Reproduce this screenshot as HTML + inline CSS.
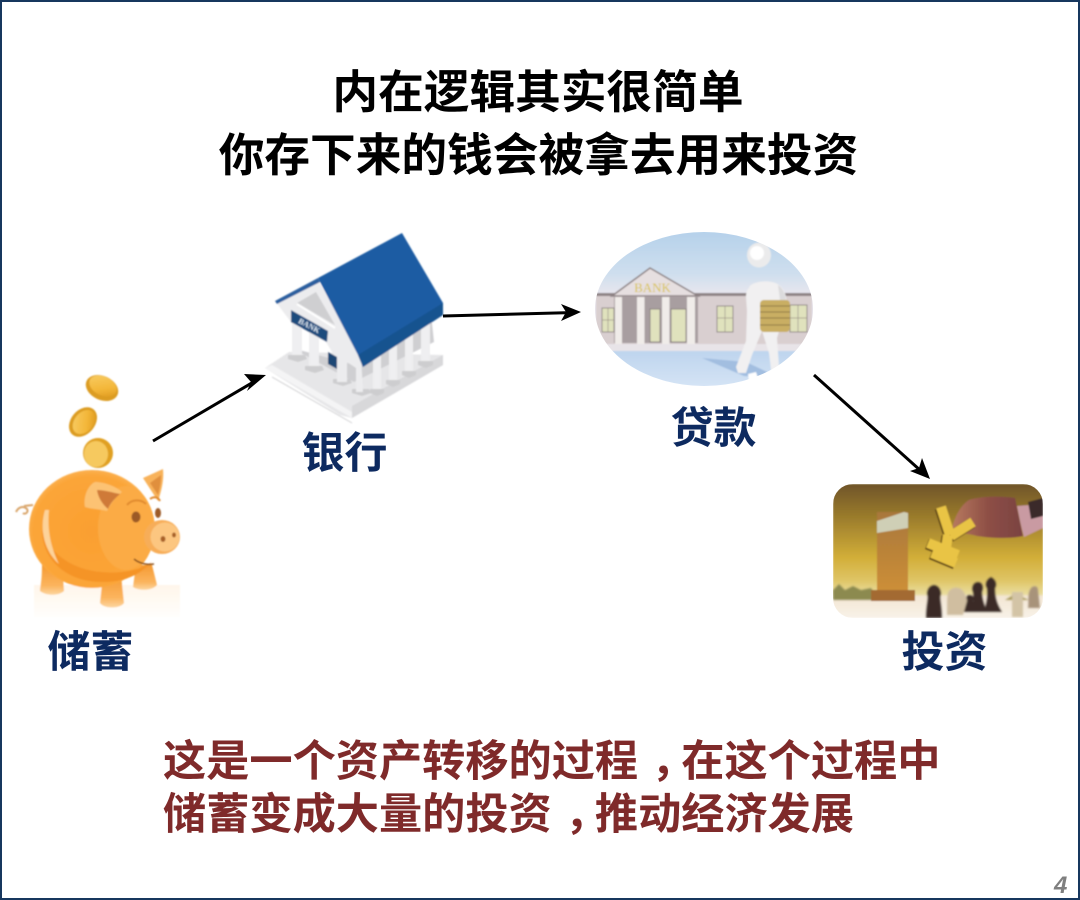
<!DOCTYPE html>
<html><head><meta charset="utf-8">
<style>
html,body{margin:0;padding:0;background:#fff}
svg{display:block}
text{font-family:"Liberation Sans","Noto Sans CJK SC",sans-serif;font-weight:700}
</style></head>
<body>
<svg width="1080" height="900" viewBox="0 0 1080 900" xmlns="http://www.w3.org/2000/svg">
<defs>
<filter id="b" x="-5%" y="-5%" width="110%" height="110%"><feGaussianBlur stdDeviation="0.7"/></filter>
<filter id="t" x="-2%" y="-5%" width="104%" height="110%"><feGaussianBlur stdDeviation="0.35"/></filter>
<filter id="b3" x="-30%" y="-30%" width="160%" height="160%"><feGaussianBlur stdDeviation="0.8"/></filter>
<radialGradient id="pig" cx="0.5" cy="0.52" r="0.6"><stop offset="0" stop-color="#fa9f30"/><stop offset="0.78" stop-color="#fba538"/><stop offset="0.93" stop-color="#fcb860"/><stop offset="1" stop-color="#fdd9a4"/></radialGradient>
<linearGradient id="coin" x1="0" y1="0" x2="1" y2="1"><stop offset="0" stop-color="#f8cf6a"/><stop offset="0.6" stop-color="#f3b638"/><stop offset="1" stop-color="#d8921a"/></linearGradient>
<linearGradient id="leg" x1="0" y1="0" x2="0" y2="1"><stop offset="0" stop-color="#f59a32"/><stop offset="0.7" stop-color="#fbb45e"/><stop offset="1" stop-color="#fdd6a0"/></linearGradient>
<linearGradient id="glow" x1="0" y1="0" x2="0" y2="1"><stop offset="0" stop-color="#fff6ea"/><stop offset="1" stop-color="#fffefc"/></linearGradient>
<linearGradient id="sky" x1="0" y1="0" x2="0" y2="1"><stop offset="0" stop-color="#b3d0ea"/><stop offset="0.28" stop-color="#cfdfee"/><stop offset="0.4" stop-color="#e8e6ee"/></linearGradient>
<linearGradient id="ground" x1="0" y1="0" x2="0" y2="1"><stop offset="0" stop-color="#bdd4ee"/><stop offset="1" stop-color="#d8e6f6"/></linearGradient>
<linearGradient id="inv" x1="0" y1="0" x2="0" y2="1"><stop offset="0" stop-color="#6f5428"/><stop offset="0.25" stop-color="#9b7c2c"/><stop offset="0.55" stop-color="#d2ae38"/><stop offset="0.72" stop-color="#dfc566"/><stop offset="0.82" stop-color="#e9dc9c"/><stop offset="0.84" stop-color="#f3e6d4"/><stop offset="1" stop-color="#f8f2e8"/></linearGradient>
<linearGradient id="tower" x1="0" y1="0" x2="0" y2="1"><stop offset="0" stop-color="#a8773a"/><stop offset="1" stop-color="#cf9038"/></linearGradient>
<linearGradient id="hand" x1="0" y1="0" x2="1" y2="0"><stop offset="0" stop-color="#b87a60"/><stop offset="0.5" stop-color="#8e4f45"/><stop offset="1" stop-color="#7a4242"/></linearGradient>
<clipPath id="oval"><ellipse cx="704" cy="309" rx="109" ry="77"/></clipPath>
<clipPath id="rr"><rect x="833" y="484" width="210" height="134" rx="20"/></clipPath>
</defs>

<rect width="1080" height="900" fill="#fff"/>
<rect x="1" y="1" width="1078" height="898" fill="none" stroke="#17375e" stroke-width="2"/>

<g filter="url(#t)">
<text x="538" y="108" font-size="45.7" text-anchor="middle" fill="#000">内在逻辑其实很简单</text>
<text x="538.5" y="171" font-size="45.7" text-anchor="middle" fill="#000">你存下来的钱会被拿去用来投资</text>
<text x="90.5" y="667" font-size="43" text-anchor="middle" fill="#0f2a60">储蓄</text>
<text x="344.5" y="468" font-size="43" text-anchor="middle" fill="#0f2a60">银行</text>
<text x="713.5" y="443" font-size="43" text-anchor="middle" fill="#0f2a60">贷款</text>
<text x="944.5" y="667" font-size="43" text-anchor="middle" fill="#0f2a60">投资</text>
<text x="163" y="776" font-size="43.2" fill="#7f2a2a">这是一个资产转移的过程<tspan dx="13">，</tspan><tspan dx="-13">在这个过程中</tspan></text>
<text x="163" y="829" font-size="43.2" fill="#7f2a2a">储蓄变成大量的投资<tspan dx="13">，</tspan><tspan dx="-13">推动经济发展</tspan></text>
<text x="1054" y="893" font-size="24" fill="#7f7f7f" style="font-style:italic">4</text>
</g>

<!-- piggy -->
<g filter="url(#b)">
<rect x="34" y="585" width="146" height="32" fill="url(#glow)"/>
<path d="M16 512c3-6 8-6 11-3c2 3-2 6-4 4M24 506l9-1" fill="none" stroke="#d9a469" stroke-width="2"/>
<path d="M42 565h20l2 26c-5 5-18 5-24 0c0-4 2-8 2-26z" fill="url(#leg)"/>
<path d="M103 575h18l3 28c-4 6-20 6-24 0z" fill="url(#leg)"/>
<path d="M136 565h16l5 20c-5 6-18 6-24 2z" fill="url(#leg)"/>
<path d="M143 478l20-9c1 10-1 20-5 32z" fill="#f8b25a"/>
<path d="M150 483l11-8c0 8-1 12-3 20z" fill="#e08f3c"/>
<ellipse cx="98" cy="453" rx="15" ry="15" fill="#e0a021"/>
<ellipse cx="96" cy="454" rx="12" ry="13" fill="#f6c95f"/>
<ellipse cx="92" cy="529" rx="63" ry="59" fill="url(#pig)"/>
<ellipse cx="126" cy="528" rx="28" ry="42" fill="#fbab44"/>
<path d="M42 530c0 30 25 52 60 52c25 0 38-8 50-20c-12 8-30 12-50 10c-30-2-54-20-60-42z" fill="#f59428"/>
<path d="M45 510c-6 20 0 42 14 54c-8-16-12-34-10-54z" fill="#fdd39a"/>
<path d="M85 507c-2-10 3-22 10-25c10 0 22 5 27 10c-8 6-12 14-15 19c-8-2-16-2-22-4z" fill="#fcc273"/>
<path d="M97 490c8 0 17 3 23 4c-6 5-10 10-12 15c-6-5-10-12-11-19z" fill="#cf7a38"/>
<path d="M127 505c5-6 14-6 19-1M150 499c4-3 8-2 10 2" fill="none" stroke="#e08a2e" stroke-width="2"/>
<ellipse cx="136" cy="517" rx="4.5" ry="5.5" fill="#9c5a26"/>
<ellipse cx="158" cy="513" rx="3" ry="5" fill="#9c5a26"/>
<ellipse cx="162" cy="537" rx="18" ry="17" fill="#f7ad58"/>
<ellipse cx="165" cy="537" rx="14.5" ry="14.5" fill="#fcc680"/>
<ellipse cx="163" cy="539" rx="2.5" ry="3" fill="#a86027"/>
<ellipse cx="174" cy="535" rx="2" ry="2.5" fill="#a86027"/>
<path d="M134 559c6 5 14 6 20 5" fill="none" stroke="#8a4f1c" stroke-width="1.5"/>
<ellipse cx="102" cy="388" rx="17" ry="12" transform="rotate(25 102 388)" fill="#dc9c20"/>
<ellipse cx="103" cy="386" rx="14.5" ry="9.5" transform="rotate(25 103 386)" fill="url(#coin)"/>
<ellipse cx="83" cy="422" rx="16.5" ry="12" transform="rotate(-50 83 422)" fill="#dc9c20"/>
<ellipse cx="84" cy="422" rx="13.5" ry="9.5" transform="rotate(-50 84 422)" fill="url(#coin)"/>
</g>

<!-- bank -->
<g filter="url(#b)">
<path d="M265 368l24-16 154 3v10l-91 53-12-3z" fill="#e6e6e8"/>
<path d="M265 368l87 50v-6l-80-47z" fill="#f4f4f5"/>
<path d="M272 377l80 46" stroke="#d0d0d2" stroke-width="1" fill="none"/>
<path d="M352 418l91-53v-10l-91 51z" fill="#d8d8da"/>
<path d="M292 348l62 34 80-40-3-28-80 50z" fill="#cfcfd2"/>
<g fill="#efeff1">
<rect x="292" y="318" width="10" height="40"/><rect x="309" y="328" width="10" height="40"/>
<rect x="373" y="352" width="8" height="39"/><rect x="389" y="342" width="8" height="40"/>
<rect x="405" y="332" width="8" height="41"/><rect x="421" y="322" width="9" height="40"/>
</g>
<g fill="#cdcdcf">
<path d="M288 355h17l2 4-9 3-10-3z"/><path d="M305 366h17l2 4-9 3-10-3z"/>
<path d="M333 379h17l2 4-9 3-10-3z"/><path d="M352 389h17l2 4-9 3-10-3z"/>
<path d="M370 389h14v4l-7 3-7-3z"/><path d="M386 380h14v4l-7 3-7-3z"/>
<path d="M402 371h14v4l-7 3-7-3z"/><path d="M418 361h15v4l-7 3-8-3z"/>
</g>
<path d="M275 301l43-21 43 75 2 37h-7v-24l-9-6v20h-10v-22l-11-18-35-20z" fill="#ececee"/>
<path d="M297 303l19-11 19 33z" fill="#cfcfd1"/>
<path d="M297 304l38 24" stroke="#fff" stroke-width="2"/>
<path d="M328 352l9 5v12l-9-5z" fill="#1c4775"/>
<path d="M291 310l37 21-1 11-36-20z" fill="#1d4b7d"/>
<text x="308" y="328" font-size="8" fill="#dbe6f0" transform="rotate(28 308 328)" text-anchor="middle" style="font-family:'Liberation Serif',serif">BANK</text>
<path d="M275 301l43-23 2 4-43 22z" fill="#2a5f9f"/>
<path d="M318 278l84-45 41 70v12l-80 52-5-12z" fill="#1c5ca3"/>
<path d="M358 355l85-52v12l-80 52z" fill="#17528f"/>
</g>

<!-- loan oval -->
<g clip-path="url(#oval)" filter="url(#b)">
<rect x="590" y="228" width="230" height="165" fill="url(#sky)"/>
<rect x="590" y="350" width="230" height="42" fill="url(#ground)"/>
<rect x="590" y="343" width="230" height="8" fill="#e8e4e8"/>
<rect x="596" y="296" width="216" height="48" fill="#d9cfd0"/>
<rect x="596" y="293" width="216" height="3" fill="#8e8385"/>
<path d="M612 296l38-28 48 28z" fill="#e6dfe0" stroke="#8b8082" stroke-width="1.5"/>
<text x="652.5" y="292" font-size="13" fill="#d9c24a" text-anchor="middle" style="font-family:'Liberation Serif',serif;font-weight:400">BANK</text>
<rect x="614" y="297" width="84" height="46" fill="#a89ea0"/>
<g fill="#f0ece9"><rect x="615" y="297" width="7" height="47"/><rect x="637" y="297" width="7.5" height="47"/><rect x="662" y="297" width="7.5" height="47"/><rect x="687" y="297" width="8" height="47"/></g>
<g fill="#e0e2bd" stroke="#7f7578" stroke-width="0.8"><rect x="650" y="309" width="10" height="33"/><rect x="671" y="309" width="15" height="33"/><rect x="602" y="308" width="12" height="24"/><rect x="717" y="306" width="16" height="26"/><rect x="790" y="305" width="17" height="27"/></g>
<g stroke="#9d9489" stroke-width="0.7"><line x1="608" y1="308" x2="608" y2="332"/><line x1="725" y1="306" x2="725" y2="332"/><line x1="717" y1="318" x2="733" y2="318"/><line x1="798" y1="305" x2="798" y2="332"/><line x1="790" y1="318" x2="807" y2="318"/><line x1="602" y1="320" x2="614" y2="320"/></g>
<path d="M702 358l44 4 34 16-36-2z" fill="#a2bee0"/>
<path d="M749 287c4-6 22-8 30-2c7 5 8 16 8 20l-10 33l2 28l0 9l-7 2l-3-24l-7-22l-10 24l-6 18l-8 0l-2-6l10-26l1-30l-1-14c0-4 1-8 4-10z" fill="#f1f0f1"/>
<path d="M748 374l8-2 2 6-9 3z" fill="#fff"/>
<path d="M778 285c5 3 7 9 8 15l-6 0z" fill="#dcdbdd"/>
<ellipse cx="759" cy="255" rx="12" ry="12.5" fill="#ebebec"/>
<ellipse cx="757" cy="253" rx="7" ry="7" fill="#fff"/>
<rect x="760" y="300" width="30" height="32" rx="4" fill="#c9ae64"/>
<g stroke="#8d7840" stroke-width="1"><line x1="760" y1="306" x2="790" y2="306"/><line x1="760" y1="312" x2="790" y2="312"/><line x1="760" y1="318" x2="790" y2="318"/><line x1="760" y1="325" x2="790" y2="325"/></g>
</g>

<!-- investment -->
<g clip-path="url(#rr)">
<g filter="url(#b)">
<rect x="833" y="484" width="210" height="134" fill="url(#inv)"/>
<g filter="url(#b3)">
<path d="M833 600v-10l6-6 6 6 8-4 8 4 10-2 8 12z" fill="#8c8a50"/>
<path d="M1005 600l10-6 14 6z" fill="#a89a58"/>
</g>
<rect x="877" y="512" width="31" height="84" fill="url(#tower)"/>
<path d="M877 521l27-9 4 1v15l-31 5z" fill="#cfcfb6"/>
<rect x="871" y="590" width="44" height="11" fill="#a36b30"/>
<path d="M952 530c2-12 8-24 17-30c14-4 32-4 46-2l8 38c-14 3-32 2-46 0c-10-3-16-2-25-6z" fill="url(#hand)"/>
<path d="M1017 506l26-2v24l-19 9c-3-10-5-21-7-31z" fill="#c99aa2"/>
<path d="M1028 502l15-4v18l-12 3z" fill="#3b2a2a"/>
<g fill="none">
<path d="M941 507l9 28M973 522l-22 14M928 543l30 12M932 553l24 10M948 535l-4 26" stroke="#5f4516" stroke-width="11" transform="translate(-1 1)"/>
<path d="M941 507l9 28M973 522l-22 14M928 543l30 12M932 553l24 10M948 535l-4 26" stroke="#e9c445" stroke-width="10"/>
</g>
<g filter="url(#b3)" fill="#3a2a25">
<path d="M926 618c0-14 3-20 1-24c0-6 4-9 7-9s7 3 7 9c-2 4 1 10 1 24z"/>
<path d="M984 612c2-8 4-14 3-24c-2-2-2-8 4-11c6 3 6 9 4 11c0 10 2 16 7 24z"/>
<path d="M971 612c2-8 3-14 2-20c-2-4 0-10 5-10s6 6 4 10c0 6 2 12 5 20z"/>
<path d="M963 612c1-6 3-8 3-12s1-5 4-5s5 3 3 6c0 4 2 7 4 11z"/>
<path d="M947 615c0-12 0-18 1-22c2-5 8-7 13-4c4 3 6 10 6 12l-4 14z" fill="#d0bea0"/>
<path d="M1012 617v-25h11v25z" fill="#d3c4a6"/>
<path d="M1028 608c1-8-1-14 3-20c3-3 7-2 7 2l2 18z" fill="#a8937a"/>
</g>
</g>
</g>

<!-- arrows -->
<g fill="none" stroke="#000" stroke-width="3">
<line x1="153" y1="441" x2="256" y2="380.5"/>
<line x1="443" y1="316" x2="570" y2="312.6"/>
<line x1="814" y1="375" x2="921" y2="471"/>
</g>
<path d="M266 375l-22-1 7 8-4 9z" fill="#000"/>
<path d="M581 312l-20-8 5 8-5 9z" fill="#000"/>
<path d="M930 479l-8-21-3 10-9 3z" fill="#000"/>
</svg>
</body></html>
